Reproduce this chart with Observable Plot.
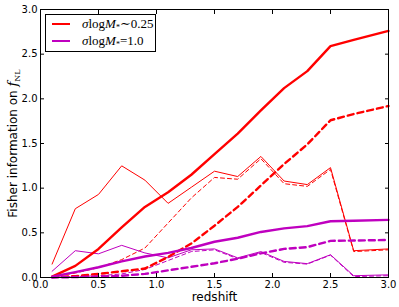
<!DOCTYPE html>
<html>
<head>
<meta charset="utf-8">
<script src="https://cdn.jsdelivr.net/npm/d3@7"></script>
<script src="https://cdn.jsdelivr.net/npm/@observablehq/plot@0.6"></script>
<style>
  html, body { margin: 0; padding: 0; background: #fff; }
  #wrap { position: relative; width: 399px; height: 307px; }
  #legend { position: absolute; left: 45px; top: 14px; width: 109px; height: 36px;
            border: 1px solid #000; background: #fff; font-family: "Liberation Serif", "DejaVu Serif", serif; font-size: 13px; }
  .row { position: absolute; left: 0; height: 16px; width: 109px; }
  .row svg { position: absolute; left: 6px; top: 0; }
  .row span { position: absolute; left: 36px; top: 0; line-height: 16px; white-space: nowrap; }
  .row i { font-style: italic; }
  .row sub { font-size: 8px; vertical-align: -2px; line-height: 0; }
</style>
</head>
<body>
<div id="wrap"></div>
<script>
// ---- data ----
const redshift = [0.1, 0.3, 0.5, 0.7, 0.9, 1.1, 1.3, 1.5, 1.7, 1.9, 2.1, 2.3, 2.5, 2.7, 3.0];

const redThickSolid = [0.01, 0.13, 0.32, 0.56, 0.79, 0.955, 1.15, 1.38, 1.61, 1.87, 2.12, 2.31, 2.59, 2.66, 2.76];
const redThickDash  = [0.005, 0.015, 0.04, 0.07, 0.10, 0.23, 0.38, 0.58, 0.79, 1.03, 1.27, 1.49, 1.76, 1.83, 1.92];
const redThinSolid  = [0.15, 0.77, 0.93, 1.25, 1.09, 0.83, 1.01, 1.19, 1.13, 1.355, 1.08, 1.04, 1.23, 0.30, 0.32];
const redThinDash   = [0.01, 0.05, 0.11, 0.20, 0.33, 0.61, 0.89, 1.12, 1.10, 1.33, 1.05, 1.02, 1.21, 0.29, 0.31];

const magThickSolid = [0.01, 0.06, 0.115, 0.18, 0.235, 0.275, 0.33, 0.40, 0.445, 0.51, 0.55, 0.575, 0.63, 0.636, 0.645];
const magThickDash  = [0.0, 0.005, 0.01, 0.02, 0.04, 0.08, 0.12, 0.16, 0.21, 0.27, 0.32, 0.34, 0.41, 0.414, 0.42];
const magThinSolid  = [0.07, 0.30, 0.265, 0.36, 0.275, 0.22, 0.31, 0.32, 0.22, 0.29, 0.18, 0.155, 0.255, 0.02, 0.03];
const magThinDash   = [0.005, 0.01, 0.02, 0.04, 0.09, 0.19, 0.29, 0.31, 0.21, 0.28, 0.17, 0.15, 0.25, 0.01, 0.02];

const xTicks = [0, 0.5, 1.0, 1.5, 2.0, 2.5, 3.0];
const yTicks = [0, 0.5, 1.0, 1.5, 2.0, 2.5, 3.0];

const xLabel = "redshift";
const yLabel = "Fisher information on ";
const legendLabels = ["\u223C0.25", "=1.0"];

// ---- chart ----
const RED = "#ff0000", MAG = "#bf00bf";
const tbl = (vals) => redshift.map((z, i) => ({z, v: vals[i]}));
const fmt = d3.format(".1f");

const chart = Plot.plot({
  width: 399,
  height: 307,
  marginLeft: 40,
  marginRight: 11,
  marginTop: 9,
  marginBottom: 30,
  x: {domain: [0, 3]},
  y: {domain: [0, 3]},
  style: {fontFamily: "'DejaVu Sans', sans-serif", fontSize: "10px", background: "#fff", color: "#000"},
  marks: [
    Plot.line(tbl(redThinSolid), {x: "z", y: "v", stroke: RED, strokeWidth: 1}),
    Plot.line(tbl(redThinDash), {x: "z", y: "v", stroke: RED, strokeWidth: 1, strokeDasharray: "4,3"}),
    Plot.line(tbl(magThinSolid), {x: "z", y: "v", stroke: MAG, strokeWidth: 1}),
    Plot.line(tbl(magThinDash), {x: "z", y: "v", stroke: MAG, strokeWidth: 1, strokeDasharray: "4,3"}),
    Plot.line(tbl(redThickSolid), {x: "z", y: "v", stroke: RED, strokeWidth: 2.4}),
    Plot.line(tbl(redThickDash), {x: "z", y: "v", stroke: RED, strokeWidth: 2.4, strokeDasharray: "6,4"}),
    Plot.line(tbl(magThickSolid), {x: "z", y: "v", stroke: MAG, strokeWidth: 2.4}),
    Plot.line(tbl(magThickDash), {x: "z", y: "v", stroke: MAG, strokeWidth: 2.4, strokeDasharray: "6,4"}),
    Plot.frame({stroke: "#000", strokeWidth: 1}),
    Plot.axisX(xTicks, {anchor: "bottom", tickSize: -4, fill: "none", label: null}),
    Plot.axisX(xTicks, {anchor: "top", tickSize: -4, fill: "none", label: null}),
    Plot.axisY(yTicks, {anchor: "left", tickSize: -4, fill: "none", label: null}),
    Plot.axisY(yTicks, {anchor: "right", tickSize: -4, fill: "none", label: null}),
    Plot.axisX(xTicks, {anchor: "bottom", tickSize: 0, tickPadding: 3, tickFormat: fmt, label: null, fontSize: 10}),
    Plot.axisY(yTicks, {anchor: "left", tickSize: 0, tickPadding: 3, tickFormat: fmt, label: null, fontSize: 10}),
    Plot.text([xLabel], {frameAnchor: "bottom", dy: 23, lineAnchor: "bottom", fontSize: 12}),
    Plot.text([yLabel], {frameAnchor: "left", dx: -24, rotate: -90, lineAnchor: "bottom", textAnchor: "middle", fontSize: 12})
  ]
});

// add italic f with NL subscript to the y label
d3.select(chart).selectAll("text").filter(function() { return this.textContent === yLabel; }).each(function() {
  const t = d3.select(this);
  t.append("tspan").attr("font-family", "'DejaVu Serif', serif").attr("font-style", "italic").attr("font-size", 13).text("f");
  t.append("tspan").attr("font-family", "'DejaVu Serif', serif").attr("font-size", 8).attr("dy", 3).text("NL");
});

const wrap = document.getElementById("wrap");
wrap.appendChild(chart);

// legend
const legend = document.createElement("div");
legend.id = "legend";
const colors = [RED, MAG];
legendLabels.forEach((lab, i) => {
  const row = document.createElement("div");
  row.className = "row";
  row.style.top = (1 + i * 17) + "px";
  row.innerHTML = `<svg width="20" height="16"><line x1="0" x2="18" y1="8" y2="8" stroke="${colors[i]}" stroke-width="2"/></svg>` +
    `<span><i>\u03C3</i>log<i>M</i><sub>*</sub>${lab}</span>`;
  legend.appendChild(row);
});
wrap.appendChild(legend);
</script>
</body>
</html>
